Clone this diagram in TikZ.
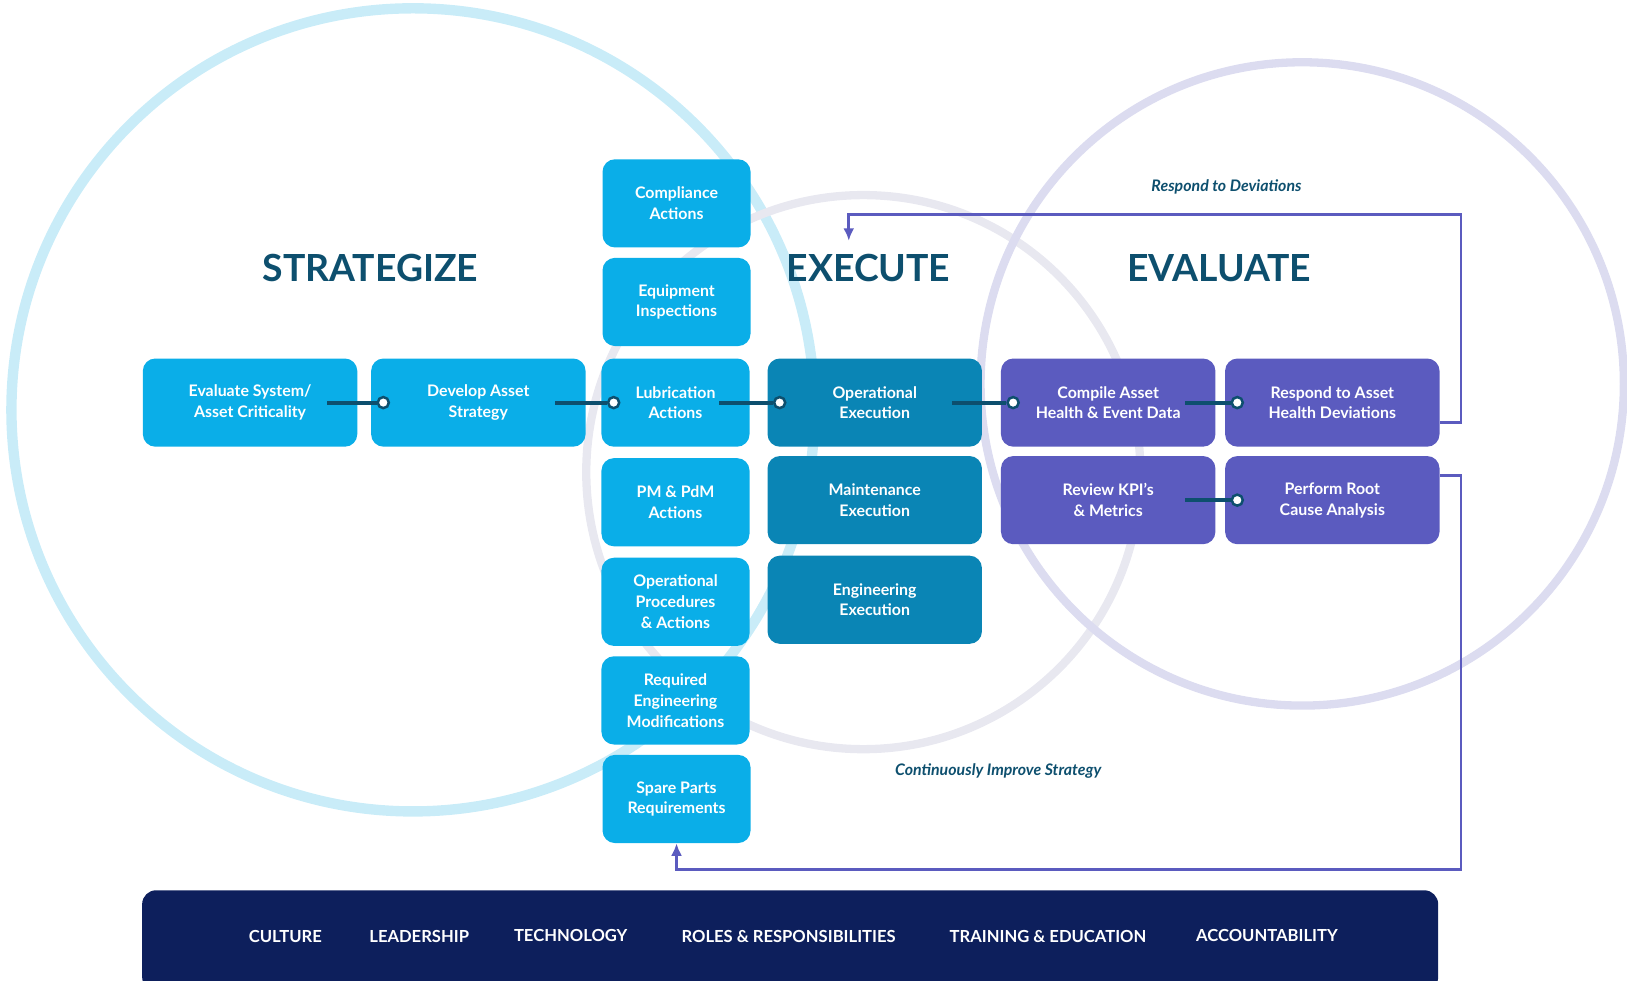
\documentclass[tikz,border=0pt]{standalone}
\usepackage{fontspec}
\setmainfont{Lato}
\usetikzlibrary{arrows.meta}
\definecolor{lb}{HTML}{0AAEE8}
\definecolor{eb}{HTML}{0A85B5}
\definecolor{pu}{HTML}{5B5BBF}
\definecolor{tl}{HTML}{0D4F6E}
\definecolor{nv}{HTML}{0D1F5C}
\begin{document}
\begin{tikzpicture}[x=0.75pt,y=-0.75pt,
 box/.style={rounded corners=9pt,minimum height=63.75pt,text=white,align=center,font=\bfseries\fontsize{11.5}{15}\selectfont,inner sep=0pt},
 bs/.style={box,fill=lb,minimum width=155pt},
 bc/.style={box,fill=lb,minimum width=107pt},
 be/.style={box,fill=eb,minimum width=155pt},
 bp/.style={box,fill=pu,minimum width=155pt},
 title/.style={text=tl,font=\bfseries\fontsize{27}{30}\selectfont},
 lab/.style={text=tl,font=\bfseries\itshape\fontsize{11.5}{14}\selectfont},
 bar/.style={text=white,font=\bfseries\fontsize{12}{14}\selectfont},
 conn/.style={draw=tl,line width=3pt},
 dot/.style={circle,draw=tl,fill=white,line width=1.8pt,minimum size=8pt,inner sep=0pt},
 loop/.style={draw=pu,line width=2pt}]
\useasboundingbox (0,0) rectangle (1568,945);
\draw[color={rgb,255:red,201;green,236;blue,248},line width=7.5pt] (398,395) circle[radius=387];
\draw[color={rgb,255:red,232;green,232;blue,240},line width=6pt] (832,455) circle[radius=267];
\draw[color={rgb,255:red,220;green,220;blue,240},line width=6pt] (1255,370) circle[radius=310];
\node[title] (ts) at (357,258) {STRATEGIZE};
\node[title] (tx) at (837,258) {EXECUTE};
\node[title] (tv) at (1175,258) {EVALUATE};
\node[bs] (ev) at (241,388) {Evaluate System/\\Asset Criticality};
\node[bs] (dv) at (461,388) {Develop Asset\\Strategy};
\node[bc] (c1) at (652,196) {Compliance\\Actions};
\node[bc] (c2) at (652,291) {Equipment\\Inspections};
\node[bc] (c3) at (651,388) {Lubrication\\Actions};
\node[bc] (c4) at (651,484) {PM \& PdM\\Actions};
\node[bc] (c5) at (651,580) {Operational\\Procedures\\\& Actions};
\node[bc] (c6) at (651,675) {Required\\Engineering\\Modifications};
\node[bc] (c7) at (652,770) {Spare Parts\\Requirements};
\node[be] (e1) at (843,388) {Operational\\Execution};
\node[be] (e2) at (843,482) {Maintenance\\Execution};
\node[be] (e3) at (843,578) {Engineering\\Execution};
\node[bp] (p1) at (1068,388) {Compile Asset\\Health \& Event Data};
\node[bp] (p2) at (1284,388) {Respond to Asset\\Health Deviations};
\node[bp] (p3) at (1068,482) {Review KPI’s\\\& Metrics};
\node[bp] (p4) at (1284,482) {Perform Root\\Cause Analysis};
\foreach \a/\b in {ev/dv,dv/c3,c3/e1,e1/p1,p1/p2,p3/p4}{
  \coordinate (s) at ([xshift=-22pt]\a.east);
  \node[dot] (d\a) at ([xshift=9pt]\b.west) {};
  \draw[conn] (s) -- (d\a.west);
}
\coordinate (r1) at (1408,407);
\coordinate (r2) at (1408,207);
\coordinate (r3) at (818,207);
\coordinate (r4) at (818,232);
\draw[loop,-{Latex[length=9pt,width=8pt]}] (p2.east|-r1) -- (r1) -- (r2) -- (r3) -- (r4);
\coordinate (q1) at (1408,458);
\coordinate (q2) at (1408,838);
\coordinate (q3) at (652,838);
\draw[loop,-{Latex[length=9pt,width=8pt]}] (p4.east|-q1) -- (q1) -- (q2) -- (q3) -- (c7.south);
\node[lab] (l1) at (1182,180) {Respond to Deviations};
\node[lab] (l2) at (962,743) {Continuously Improve Strategy};
\fill[nv,rounded corners=10pt] (137,858) rectangle (1386,955);
\node[bar] (b1) at (275,903) {CULTURE};
\node[bar] (b2) at (404,903) {LEADERSHIP};
\node[bar] (b3) at (550,902) {TECHNOLOGY};
\node[bar] (b4) at (760,903) {ROLES \& RESPONSIBILITIES};
\node[bar] (b5) at (1010,903) {TRAINING \& EDUCATION};
\node[bar] (b6) at (1221,902) {ACCOUNTABILITY};
\end{tikzpicture}
\end{document}
